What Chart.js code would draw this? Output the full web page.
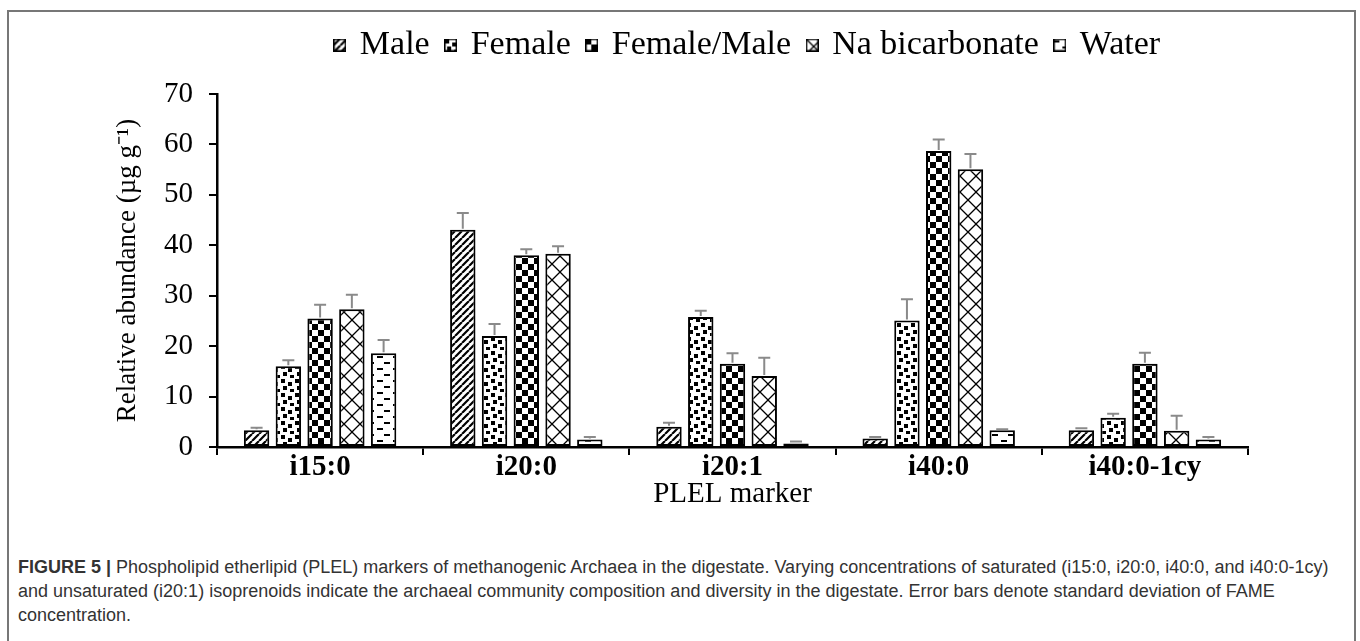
<!DOCTYPE html>
<html>
<head>
<meta charset="utf-8">
<script src="https://cdn.jsdelivr.net/npm/chart.js@4.4.1/dist/chart.umd.min.js"></script>
<style>
  body { margin: 0; background: #fff; width: 1360px; height: 641px; overflow: hidden; position: relative; }
  #frame { position: absolute; left: 7px; top: 10px; width: 1349px; height: 700px; border: 2px solid #777; box-sizing: border-box; }
  #chart { position: absolute; left: 0; top: 0; }
  #caption { position: absolute; left: 18px; top: 555px; font-family: "Liberation Sans", Arial, sans-serif;
             font-size: 18px; line-height: 24px; color: #333; white-space: nowrap; }
</style>
</head>
<body>
<div id="frame"></div>
<canvas id="chart" width="1360" height="530"></canvas>
<div id="caption">
  <b>FIGURE 5 |</b> Phospholipid etherlipid (PLEL) markers of methanogenic Archaea in the digestate. Varying concentrations of saturated (i15:0, i20:0, i40:0, and i40:0-1cy)<br>
  and unsaturated (i20:1) isoprenoids indicate the archaeal community composition and diversity in the digestate. Error bars denote standard deviation of FAME<br>
  concentration.
</div>
<script>
// dados (µg g-1)
const markers = ['i15:0', 'i20:0', 'i20:1', 'i40:0', 'i40:0-1cy'];

const male = [3.3, 43.1, 4.0, 1.7, 3.3];
const maleSd = [0.5, 3.3, 0.8, 0.3, 0.4];

const female = [16.0, 22.0, 25.8, 25.1, 5.8];
const femaleSd = [1.2, 2.4, 1.2, 4.2, 0.8];

const femaleMale = [25.5, 38.0, 16.5, 58.7, 16.5];
const femaleMaleSd = [2.7, 1.2, 2.1, 2.3, 2.2];

const naBicarbonate = [27.3, 38.3, 14.1, 55.1, 3.2];
const naBicarbonateSd = [2.9, 1.5, 3.6, 3.0, 3.0];

const water = [18.6, 1.5, 0.7, 3.3, 1.5];
const waterSd = [2.6, 0.5, 0.4, 0.2, 0.5];

const yMin = 0, yMax = 70, yStep = 10;

Chart.defaults.font.family = "'Liberation Serif', 'Times New Roman', serif";
Chart.defaults.color = '#000';

// padrões de preenchimento das barras
function makePattern(kind) {
  const c = document.createElement('canvas');
  const g = c.getContext('2d');
  if (kind === 'diagonal') {
    c.width = c.height = 7;
    g.fillStyle = '#fff'; g.fillRect(0, 0, 7, 7);
    g.strokeStyle = '#000'; g.lineWidth = 2.2;
    g.beginPath();
    [-7, 0, 7].forEach(k => { g.moveTo(k, 7); g.lineTo(k + 7, 0); });
    g.stroke();
  } else if (kind === 'dots') {
    c.width = c.height = 14;
    g.fillStyle = '#fff'; g.fillRect(0, 0, 14, 14);
    g.fillStyle = '#000';
    [[1, 1], [8, 4], [3, 8], [10, 11]].forEach(p => g.fillRect(p[0], p[1], 4, 4));
  } else if (kind === 'checker') {
    c.width = c.height = 12;
    g.fillStyle = '#fff'; g.fillRect(0, 0, 12, 12);
    g.fillStyle = '#000';
    g.fillRect(0, 0, 6, 6); g.fillRect(6, 6, 6, 6);
  } else if (kind === 'lattice') {
    c.width = c.height = 16;
    g.fillStyle = '#fff'; g.fillRect(0, 0, 16, 16);
    g.strokeStyle = '#000'; g.lineWidth = 1.3;
    g.beginPath();
    g.moveTo(0, 0); g.lineTo(16, 16);
    g.moveTo(0, 16); g.lineTo(16, 0);
    g.stroke();
  } else {
    c.width = 16; c.height = 12;
    g.fillStyle = '#fff'; g.fillRect(0, 0, 16, 12);
    g.strokeStyle = '#000'; g.lineWidth = 2;
    g.beginPath();
    g.moveTo(0, 3); g.lineTo(6, 3);
    g.moveTo(9, 9); g.lineTo(15, 9);
    g.stroke();
  }
  return g.createPattern(c, 'repeat');
}

// ícone pequeno da legenda
function makeIcon(pattern) {
  const c = document.createElement('canvas');
  c.width = c.height = 13;
  const g = c.getContext('2d');
  g.fillStyle = pattern; g.fillRect(0, 0, 13, 13);
  g.strokeStyle = '#000'; g.lineWidth = 1.5;
  g.strokeRect(0.75, 0.75, 11.5, 11.5);
  return c;
}

const patterns = ['diagonal', 'dots', 'checker', 'lattice', 'dashes'].map(makePattern);
const icons = patterns.map(makeIcon);

const series = [
  { label: 'Male', data: male, sd: maleSd },
  { label: 'Female', data: female, sd: femaleSd },
  { label: 'Female/Male', data: femaleMale, sd: femaleMaleSd },
  { label: 'Na bicarbonate', data: naBicarbonate, sd: naBicarbonateSd },
  { label: 'Water', data: water, sd: waterSd }
];

// barras de erro (só para cima), desenhadas pela escala y
const errorBars = {
  id: 'errorBars',
  afterDatasetsDraw(chart) {
    const ctx = chart.ctx;
    const y = chart.scales.y;
    ctx.save();
    ctx.strokeStyle = '#8a8a8a';
    ctx.lineWidth = 2;
    chart.data.datasets.forEach((ds, i) => {
      chart.getDatasetMeta(i).data.forEach((bar, j) => {
        const top = y.getPixelForValue(ds.data[j] + ds.sd[j]);
        ctx.beginPath();
        ctx.moveTo(bar.x, bar.y - 1);
        ctx.lineTo(bar.x, top);
        ctx.moveTo(bar.x - 6, top);
        ctx.lineTo(bar.x + 6, top);
        ctx.stroke();
      });
    });
    ctx.restore();
  }
};

// empurra a legenda um pouco para a direita, como no original
const legendShift = {
  id: 'legendShift',
  afterLayout(chart) {
    chart.legend.left += 16;
    chart.legend.right += 16;
  }
};

const config = {
  type: 'bar',
  data: {
    labels: markers,
    datasets: series.map((s, i) => ({
      label: s.label,
      data: s.data,
      sd: s.sd,
      backgroundColor: patterns[i],
      borderColor: '#000',
      borderWidth: 2,
      borderSkipped: false,
      categoryPercentage: 0.77,
      barPercentage: 0.8
    }))
  },
  options: {
    responsive: false,
    animation: false,
    layout: { padding: { top: 10, left: 100, right: 112, bottom: 13 } },
    scales: {
      x: {
        grid: { drawOnChartArea: false, drawTicks: true, tickLength: 8, color: '#000', lineWidth: 2, offset: true },
        border: { color: '#000', width: 2.5 },
        ticks: { color: '#000', padding: -5, font: { size: 29, weight: 'bold' } },
        title: { display: true, text: 'PLEL marker', color: '#000', font: { size: 29 }, padding: { top: 0, bottom: 5 } },
        afterFit(scale) { scale.height = 70; }
      },
      y: {
        min: yMin,
        max: yMax,
        grid: { drawOnChartArea: false, drawTicks: true, tickLength: 8, color: '#000', lineWidth: 2 },
        border: { color: '#000', width: 2.5 },
        ticks: { stepSize: yStep, color: '#000', padding: 16, font: { size: 29 } },
        title: { display: true, text: 'Relative abundance (µg g⁻¹)', color: '#000', font: { size: 27 }, padding: { top: 12, bottom: 0 } },
        afterFit(scale) { scale.width = 117; }
      }
    },
    plugins: {
      legend: {
        display: true,
        position: 'top',
        fullSize: false,
        weight: 3000,
        labels: {
          usePointStyle: true,
          pointStyleWidth: 6,
          padding: 18,
          color: '#000',
          font: { size: 34 },
          generateLabels: (chart) => chart.data.datasets.map((ds, i) => ({
            text: ds.label,
            pointStyle: icons[i],
            datasetIndex: i,
            fontColor: '#000',
            fillStyle: 'transparent',
            strokeStyle: 'transparent',
            lineWidth: 0,
            hidden: false
          }))
        }
      },
      // espaço entre a legenda e o gráfico
      subtitle: { display: true, text: '', font: { size: 10, lineHeight: 1 }, padding: { top: 12, bottom: 0 } },
      tooltip: { enabled: false }
    }
  },
  plugins: [errorBars, legendShift]
};

new Chart(document.getElementById('chart').getContext('2d'), config);
</script>
</body>
</html>
